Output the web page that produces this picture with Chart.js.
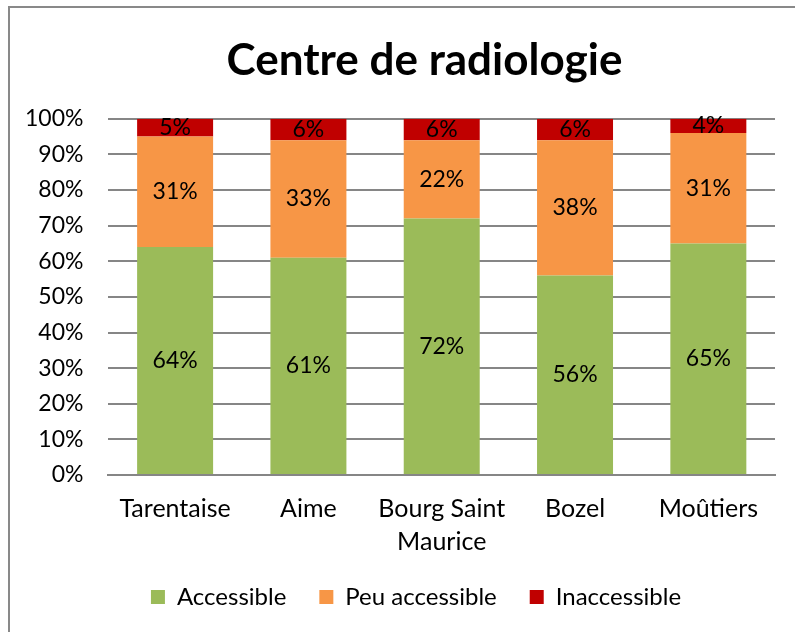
<!DOCTYPE html>
<html lang="fr">
<head>
    <meta charset="UTF-8">
    <title>Centre de radiologie</title>
    <script src="https://cdn.jsdelivr.net/npm/chart.js"></script>
    <style>
        body {
            margin: 0;
            background: #fff;
        }
        .frame {
            position: absolute;
            left: 8px;
            top: 6px;
            width: 800px;
            height: 640px;
            border: 2px solid #898989;
        }
        .chart-container {
            position: absolute;
            left: 0;
            top: 0;
            width: 795px;
            height: 632px;
        }
    </style>
</head>
<body>
    <div class="frame"></div>
    <div class="chart-container">
        <canvas id="radioChart"></canvas>
    </div>

    <script>
        const sites = ['Tarentaise', 'Aime', ['Bourg Saint', 'Maurice'], 'Bozel', 'Moûtiers'];
        const accessible = [64, 61, 72, 56, 65];
        const peuAccessible = [31, 33, 22, 38, 31];
        const inaccessible = [5, 6, 6, 6, 4];

        const FONT = 'Lato, "Open Sans", sans-serif';

        // draws the % value in the middle of each segment
        const segmentLabels = {
            id: 'segmentLabels',
            afterDatasetsDraw(chart) {
                const c = chart.ctx;
                c.save();
                c.font = '23px ' + FONT;
                c.fillStyle = '#000';
                c.textAlign = 'center';
                c.textBaseline = 'middle';
                chart.data.datasets.forEach((ds, i) => {
                    const meta = chart.getDatasetMeta(i);
                    meta.data.forEach((bar, j) => {
                        const p = bar.getProps(['x', 'y', 'base'], true);
                        c.fillText(ds.data[j] + '%', p.x, (p.y + p.base) / 2);
                    });
                });
                c.restore();
            }
        };

        // title and legend sit a little right of the canvas centre
        const blockShift = {
            id: 'blockShift',
            afterLayout(chart) {
                const t = chart.titleBlock;
                if (t) { t.left += 37; t.right += 37; }
                const l = chart.legend;
                if (l) { l.left += 36; l.right += 36; }
            }
        };

        new Chart(document.getElementById('radioChart'), {
            type: 'bar',
            data: {
                labels: sites,
                datasets: [
                    { label: 'Accessible', data: accessible, backgroundColor: '#9BBB59' },
                    { label: 'Peu accessible', data: peuAccessible, backgroundColor: '#F79646' },
                    { label: 'Inaccessible', data: inaccessible, backgroundColor: '#C00000' }
                ]
            },
            options: {
                responsive: true,
                maintainAspectRatio: false,
                animation: false,
                layout: { padding: { left: 0, right: 20, top: 0, bottom: 13 } },
                datasets: {
                    bar: { categoryPercentage: 1, barPercentage: 0.57, borderWidth: 0 }
                },
                plugins: {
                    title: {
                        display: true,
                        text: 'Centre de radiologie',
                        color: '#000',
                        font: { family: FONT, size: 44, weight: 'bold' },
                        padding: { top: 34, bottom: 32 }
                    },
                    legend: {
                        position: 'bottom',
                        labels: {
                            color: '#000',
                            font: { family: FONT, size: 24 },
                            boxWidth: 14,
                            boxHeight: 14,
                            padding: 18,
                            // wider gap between items without a taller legend
                            generateLabels: chart =>
                                Chart.defaults.plugins.legend.labels.generateLabels(chart)
                                    .map(item => ({ ...item, text: item.text + '\u2002\u2009' }))
                        }
                    },
                    tooltip: { enabled: false }
                },
                scales: {
                    x: {
                        stacked: true,
                        grid: { display: false },
                        border: { color: '#868686', width: 2 },
                        ticks: {
                            color: '#000',
                            font: { family: FONT, size: 25, lineHeight: 1.32 },
                            padding: 9,
                            maxRotation: 0
                        }
                    },
                    y: {
                        stacked: true,
                        min: 0,
                        max: 100,
                        grid: { color: '#868686', lineWidth: 2, drawTicks: false },
                        border: { display: false },
                        ticks: {
                            stepSize: 10,
                            color: '#000',
                            font: { family: FONT, size: 23 },
                            padding: 25,
                            callback: v => v + '%'
                        }
                    }
                }
            },
            plugins: [segmentLabels, blockShift]
        });
    </script>
</body>
</html>
